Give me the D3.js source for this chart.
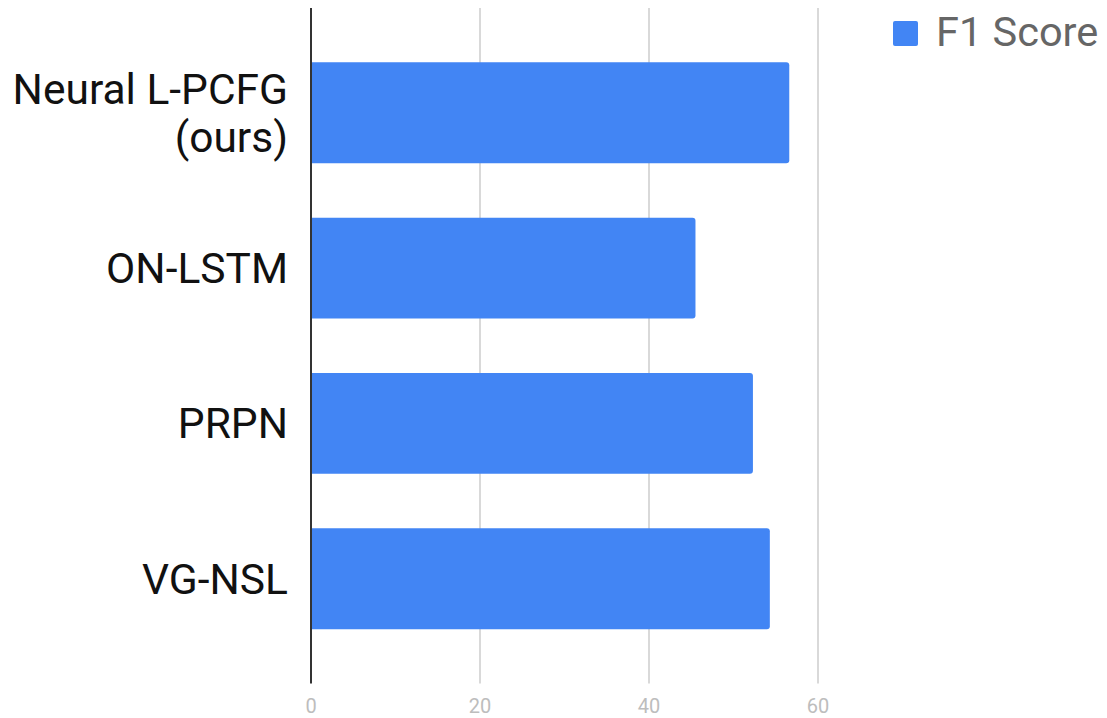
<!DOCTYPE html>
<html>
<head>
<meta charset="utf-8">
<script src="https://cdn.jsdelivr.net/npm/d3@7"></script>
<style>
  html, body { margin: 0; padding: 0; background: #fff; }
  svg { display: block; font-family: Roboto, "Noto Sans", sans-serif; }
</style>
</head>
<body>
<svg id="chart" width="1107" height="718"></svg>
<script>
// Parsing F1 per model
const categories = [["Neural L-PCFG", "(ours)"], ["ON-LSTM"], ["PRPN"], ["VG-NSL"]];
const f1Scores = [56.6, 45.5, 52.3, 54.3];
const xTicks = [0, 20, 40, 60];
const seriesName = "F1 Score";

const svg = d3.select("#chart");
const plotLeft = 311, plotTop = 8, plotBottom = 683.5;

const x = d3.scaleLinear().domain([0, 60]).range([plotLeft, plotLeft + 507]);
const y = d3.scaleBand()
  .domain(d3.range(categories.length))
  .range([plotTop, plotBottom])
  .paddingInner(0.35)
  .paddingOuter(0.35);

// vertical gridlines
svg.append("g").selectAll("line")
  .data(xTicks.filter(d => d !== 0))
  .join("line")
  .attr("x1", d => x(d)).attr("x2", d => x(d))
  .attr("y1", plotTop).attr("y2", plotBottom)
  .attr("stroke", "#cccccc").attr("stroke-width", 1.5);

// bars with rounded right end
const r = 3;
svg.append("g").selectAll("path")
  .data(f1Scores)
  .join("path")
  .attr("fill", "#4285f4")
  .attr("d", (d, i) => {
    const x0 = x(0), x1 = x(d), y0 = y(i), h = y.bandwidth();
    return `M${x0},${y0}H${x1 - r}Q${x1},${y0} ${x1},${y0 + r}V${y0 + h - r}Q${x1},${y0 + h} ${x1 - r},${y0 + h}H${x0}Z`;
  });

// zero baseline
svg.append("line")
  .attr("x1", x(0)).attr("x2", x(0))
  .attr("y1", plotTop).attr("y2", plotBottom)
  .attr("stroke", "#333333").attr("stroke-width", 2);

// x tick labels
svg.append("g").selectAll("text")
  .data(xTicks)
  .join("text")
  .attr("x", d => x(d))
  .attr("y", 712.5)
  .attr("text-anchor", "middle")
  .attr("font-size", 20)
  .attr("fill", "#bdbdbd")
  .text(d => d);

// category labels
const lineH = 48;
const labels = svg.append("g").selectAll("text")
  .data(categories)
  .join("text")
  .attr("text-anchor", "end")
  .attr("font-size", 42.5)
  .attr("fill", "#111111");
labels.each(function(lines, i) {
  const cy = y(i) + y.bandwidth() / 2;
  const firstBaseline = cy + 15 - (lines.length - 1) * lineH / 2;
  d3.select(this).selectAll("tspan")
    .data(lines)
    .join("tspan")
    .attr("x", 288)
    .attr("y", (l, j) => firstBaseline + j * lineH)
    .text(l => l);
});

// legend
const legend = svg.append("g");
legend.append("rect")
  .attr("x", 893).attr("y", 21).attr("width", 25).attr("height", 25)
  .attr("rx", 2).attr("fill", "#4285f4");
legend.append("text")
  .attr("x", 936).attr("y", 46)
  .attr("font-size", 41.5)
  .attr("fill", "#666666")
  .text(seriesName);
</script>
</body>
</html>
